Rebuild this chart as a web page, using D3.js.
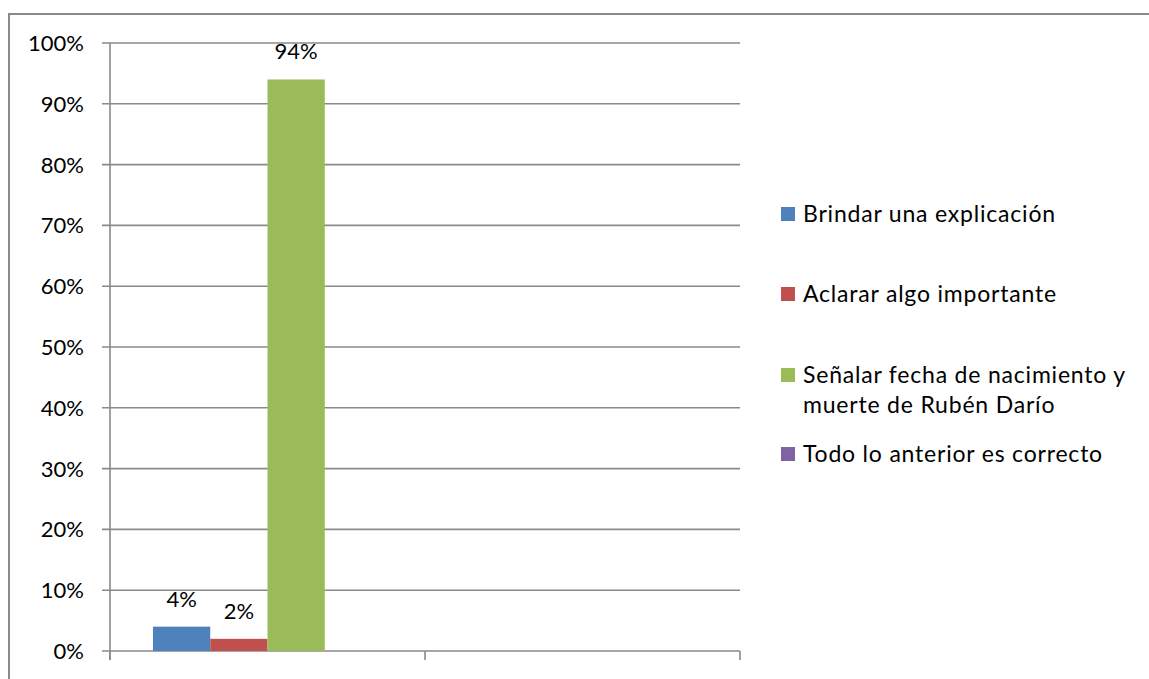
<!DOCTYPE html>
<html><head><meta charset="utf-8">
<script src="https://cdn.jsdelivr.net/npm/d3@7"></script>
<style>html,body{margin:0;padding:0;background:#fff;}svg{display:block;}</style>
</head><body>
<svg id="c" width="1149" height="679"></svg>
<script>
const categories = ["Grupo 1", "Grupo 2"];
const seriesNames = ["Brindar una explicación", "Aclarar algo importante", "Señalar fecha de nacimiento y muerte de Rubén Darío", "Todo lo anterior es correcto"];
const seriesLines = [["Brindar una explicación"], ["Aclarar algo importante"], ["Señalar fecha de nacimiento y", "muerte de Rubén Darío"], ["Todo lo anterior es correcto"]];
const valuesCat1 = [0.04, 0.02, 0.94, null];
const valuesCat2 = [null, null, null, null];
const seriesColors = ["#4F81BD", "#C0504D", "#9BBB59", "#8064A2"];
const yTicks = [0, 0.1, 0.2, 0.3, 0.4, 0.5, 0.6, 0.7, 0.8, 0.9, 1.0];

(function () {
const allValues = [valuesCat1, valuesCat2];
const svg = d3.select("#c");
const font = "Lato, 'Open Sans', sans-serif";
const gridColor = "#8a8a8a";

// outer border
svg.append("rect").attr("x", 9).attr("y", 14).attr("width", 1200).attr("height", 700)
  .attr("fill", "none").attr("stroke", gridColor).attr("stroke-width", 2);

const pLeft = 110, pRight = 740, pTop = 43, pBottom = 651;
const x0 = d3.scaleBand().domain(categories).range([pLeft, pRight]).paddingInner(0).paddingOuter(0);
const x1 = d3.scaleBand().domain(d3.range(seriesNames.length)).range([0, x0.bandwidth()]).paddingOuter(0.75).paddingInner(0);
const y = d3.scaleLinear().domain([0, 1]).range([pBottom, pTop]);

// gridlines
svg.append("g").selectAll("line").data(yTicks).join("line")
  .attr("x1", pLeft - 8).attr("x2", pRight).attr("y1", d => y(d)).attr("y2", d => y(d))
  .attr("stroke", gridColor).attr("stroke-width", 1.6);

// y axis line
svg.append("line").attr("x1", pLeft).attr("x2", pLeft).attr("y1", pTop).attr("y2", pBottom + 9)
  .attr("stroke", gridColor).attr("stroke-width", 1.6);

// category ticks
const catEdges = categories.map(c => x0(c)).concat([pRight]);
svg.append("g").selectAll("line").data(catEdges).join("line")
  .attr("x1", d => d).attr("x2", d => d).attr("y1", pBottom).attr("y2", pBottom + 9)
  .attr("stroke", gridColor).attr("stroke-width", 1.6);

// y tick labels
svg.append("g").selectAll("text").data(yTicks).join("text")
  .attr("x", 84).attr("y", d => y(d) + 8)
  .attr("text-anchor", "end").attr("font-family", font).attr("font-size", 22).attr("fill", "#000")
  .text(d => d3.format(".0%")(d));

// bars
categories.forEach((cat, ci) => {
  const g = svg.append("g").attr("transform", `translate(${x0(cat)},0)`);
  const vals = allValues[ci].map((v, i) => ({v, i})).filter(d => d.v !== null);
  g.selectAll("rect").data(vals).join("rect")
    .attr("x", d => x1(d.i)).attr("width", x1.bandwidth())
    .attr("y", d => y(d.v)).attr("height", d => pBottom - y(d.v))
    .attr("fill", d => seriesColors[d.i]);
  g.selectAll("text").data(vals).join("text")
    .attr("x", d => x1(d.i) + x1.bandwidth() / 2).attr("y", d => y(d.v) - 20)
    .attr("text-anchor", "middle").attr("font-family", font).attr("font-size", 22).attr("fill", "#000")
    .text(d => d3.format(".0%")(d.v));
});

// legend
const legendY = [214, 294, 375, 454];
const lg = svg.append("g");
seriesNames.forEach((name, i) => {
  lg.append("rect").attr("x", 781).attr("y", legendY[i] - 7).attr("width", 14).attr("height", 14)
    .attr("fill", seriesColors[i]);
  const t = lg.append("text").attr("font-family", font).attr("font-size", 23)
    .attr("letter-spacing", 0.8).attr("fill", "#000");
  seriesLines[i].forEach((line, li) => {
    t.append("tspan").attr("x", 803).attr("y", legendY[i] + 8 + li * 30).text(line);
  });
});
})();
</script>
</body></html>
